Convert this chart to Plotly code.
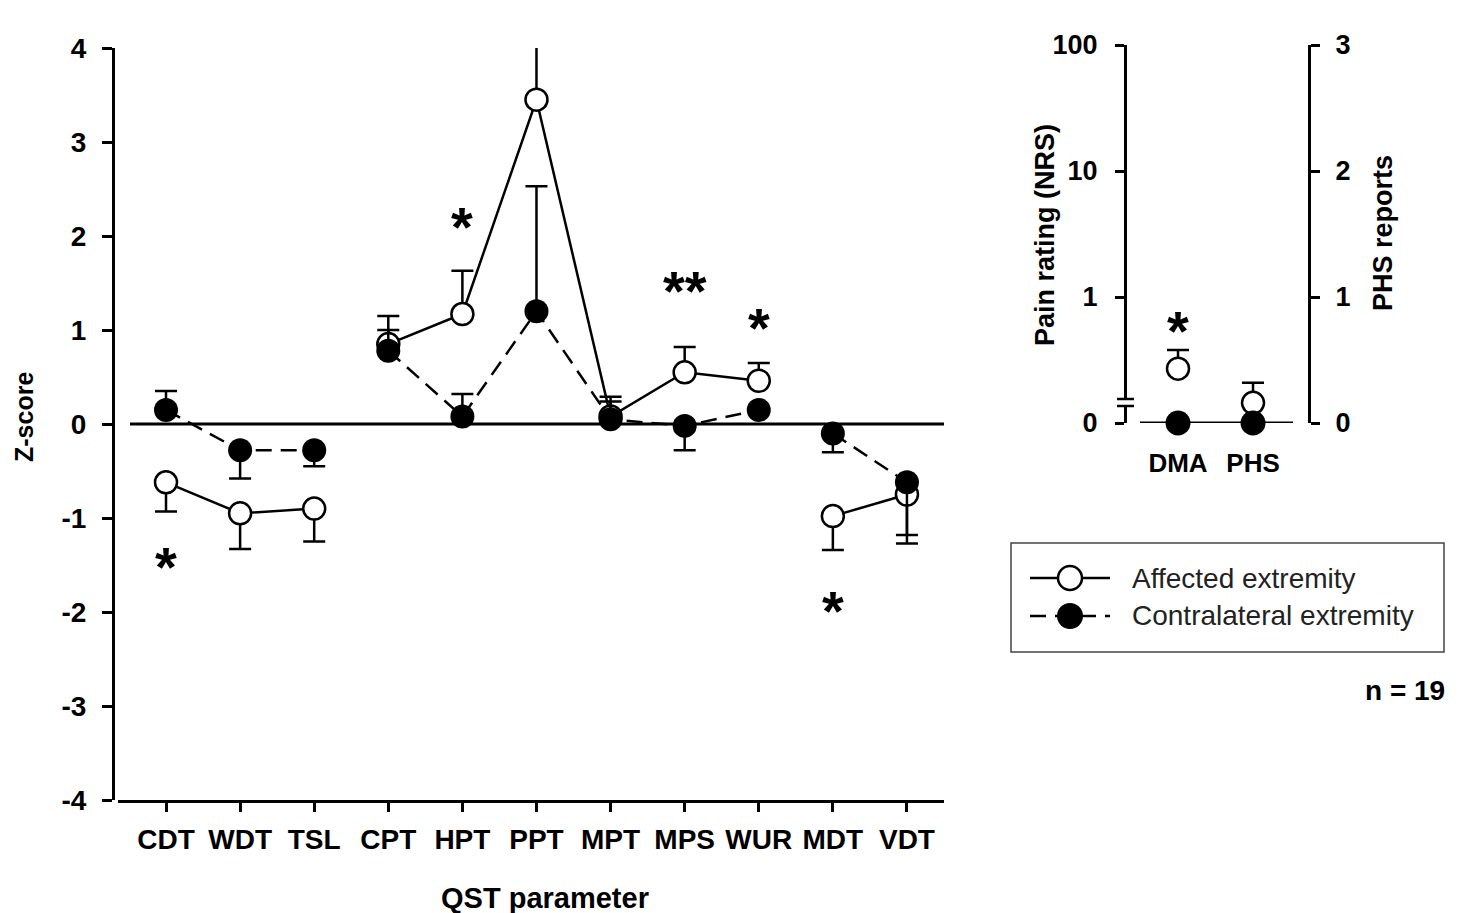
import math
import plotly.graph_objects as go

W, H = 1465, 913
OFF = 8  # page body margin offset of the rendered figure
FONT = "Liberation Sans, Arial, sans-serif"

# ---------------- data: main panel ----------------
categories = ["CDT", "WDT", "TSL", "CPT", "HPT", "PPT", "MPT", "MPS", "WUR", "MDT", "VDT"]
segments = [["CDT", "WDT", "TSL"], ["CPT", "HPT", "PPT", "MPT", "MPS", "WUR"], ["MDT", "VDT"]]

affected = [-0.62, -0.95, -0.90, 0.85, 1.17, 3.45, 0.08, 0.55, 0.46, -0.98, -0.75]
affected_err_up = [0, 0, 0, 0.30, 0.46, 0.80, 0.21, 0.27, 0.19, 0, 0]
affected_err_down = [0.31, 0.38, 0.35, 0, 0, 0, 0, 0, 0, 0.36, 0.43]

contra = [0.15, -0.28, -0.28, 0.78, 0.08, 1.20, 0.05, -0.02, 0.15, -0.10, -0.62]
contra_err_up = [0.20, 0, 0, 0.22, 0.24, 1.33, 0.19, 0, 0, 0, 0]
contra_err_down = [0, 0.30, 0.17, 0, 0, 0, 0, 0.26, 0, 0.20, 0.65]

sig_cats = ["CDT", "HPT", "PPT", "MPS", "WUR", "MDT"]
sig_labels = ["*", "*", "**", "**", "*", "*"]
sig_y = [-1.44, 2.18, 4.28, 1.50, 1.10, -1.91]

z_ticks = [-4, -3, -2, -1, 0, 1, 2, 3, 4]

# ---------------- data: inset ----------------
inset_cats = ["DMA", "PHS"]
dma_affected, dma_affected_err, dma_contra = 0.27, 0.11, 0.0
phs_affected, phs_affected_err, phs_contra = 0.16, 0.16, 0.0
dma_sig_label, dma_sig_value = "*", 0.62
nrs_tickvals = [0.1, 1, 10, 100]
nrs_ticktext = ["0", "1", "10", "100"]
phs_ticks = [0, 1, 2, 3]
NRS_FLOOR = 0.1  # value drawn at the axis break for a zero rating


def px(x):
    return (x - OFF) / W


def py(y):
    return 1 - (y - OFF) / H


def nrs(v):
    return v if v > 0 else NRS_FLOOR


idx = {c: i for i, c in enumerate(categories)}

fig = go.Figure()

# main panel traces
for series, up, down, is_aff in [
    (affected, affected_err_up, affected_err_down, True),
    (contra, contra_err_up, contra_err_down, False),
]:
    for seg in segments:
        ii = [idx[c] for c in seg]
        fig.add_trace(go.Scatter(
            x=ii, y=[series[i] for i in ii],
            mode="lines+markers",
            line=dict(color="black", width=2.5, dash="solid" if is_aff else "16px,9px"),
            marker=dict(symbol="circle", size=22 if is_aff else 24,
                        color="white" if is_aff else "black",
                        line=dict(color="black", width=2.5 if is_aff else 0)),
            error_y=dict(type="data", symmetric=False,
                         array=[up[i] for i in ii], arrayminus=[down[i] for i in ii],
                         color="black", thickness=2.5, width=11),
            xaxis="x", yaxis="y", showlegend=False, cliponaxis=True,
            hoverinfo="skip",
        ))

# inset traces: DMA on log NRS axis (y2), PHS on linear axis (y3)
fig.add_trace(go.Scatter(
    x=[0], y=[nrs(dma_affected)], mode="markers",
    marker=dict(symbol="circle", size=22, color="white", line=dict(color="black", width=2.5)),
    error_y=dict(type="data", symmetric=False, array=[dma_affected_err], arrayminus=[0],
                 color="black", thickness=2.5, width=11),
    xaxis="x2", yaxis="y2", showlegend=False, hoverinfo="skip", cliponaxis=False))
fig.add_trace(go.Scatter(
    x=[1], y=[phs_affected], mode="markers",
    marker=dict(symbol="circle", size=22, color="white", line=dict(color="black", width=2.5)),
    error_y=dict(type="data", symmetric=False, array=[phs_affected_err], arrayminus=[0],
                 color="black", thickness=2.5, width=11),
    xaxis="x2", yaxis="y3", showlegend=False, hoverinfo="skip", cliponaxis=False))
fig.add_trace(go.Scatter(
    x=[0], y=[nrs(dma_contra)], mode="markers",
    marker=dict(symbol="circle", size=25, color="black"),
    xaxis="x2", yaxis="y2", showlegend=False, hoverinfo="skip", cliponaxis=False))
fig.add_trace(go.Scatter(
    x=[1], y=[phs_contra], mode="markers",
    marker=dict(symbol="circle", size=25, color="black"),
    xaxis="x2", yaxis="y3", showlegend=False, hoverinfo="skip", cliponaxis=False))

tickfont = dict(family=FONT, size=28, color="black", weight="bold")
inset_font = dict(family=FONT, size=27, color="black", weight="bold")

fig.update_layout(
    width=W, height=H,
    margin=dict(l=0, r=0, t=0, b=0, pad=0, autoexpand=False),
    paper_bgcolor="white", plot_bgcolor="rgba(0,0,0,0)",
    font=dict(family=FONT, color="black"),
    xaxis=dict(domain=[px(118), px(944)], range=[-0.648, 10.5],
               tickvals=list(range(len(categories))), ticktext=categories,
               showline=True, linecolor="black", linewidth=3,
               ticks="outside", ticklen=9, tickwidth=3, tickcolor="black",
               tickfont=tickfont, ticklabelstandoff=3, automargin=False,
               showgrid=False, zeroline=False, anchor="y"),
    yaxis=dict(domain=[py(800), py(48)], range=[-4, 4],
               tickvals=z_ticks, ticktext=[str(t) for t in z_ticks],
               anchor="free", position=px(113), automargin=False,
               showline=True, linecolor="black", linewidth=3,
               ticks="outside", ticklen=10, tickwidth=3, tickcolor="black",
               tickfont=tickfont, ticklabelstandoff=10,
               showgrid=False, zeroline=False),
    xaxis2=dict(domain=[px(1127), px(1308)], range=[-0.68, 1.733],
                tickvals=[0, 1], ticktext=inset_cats, ticks="",
                showline=False, showgrid=False, zeroline=False, automargin=False,
                tickfont=dict(family=FONT, size=26, color="black", weight="bold"),
                ticklabelstandoff=22, anchor="y2"),
    yaxis2=dict(domain=[py(423), py(45)], type="log", range=[-1, 2],
                tickvals=nrs_tickvals, ticktext=nrs_ticktext, automargin=False,
                showline=True, linecolor="black", linewidth=3,
                ticks="outside", ticklen=9, tickwidth=3, tickcolor="black",
                tickfont=inset_font, ticklabelstandoff=12,
                showgrid=False, zeroline=False, anchor="x2"),
    yaxis3=dict(domain=[py(423), py(45)], range=[0, 3], overlaying="y2", side="right",
                tickvals=phs_ticks, ticktext=[str(t) for t in phs_ticks], automargin=False,
                showline=True, linecolor="black", linewidth=3,
                ticks="outside", ticklen=9, tickwidth=3, tickcolor="black",
                tickfont=inset_font, ticklabelstandoff=10,
                showgrid=False, zeroline=False, anchor="x2"),
)

shapes = []
# zero reference line, main panel
shapes.append(dict(type="line", xref="paper", yref="y", x0=px(130), x1=px(944), y0=0, y1=0,
                   line=dict(color="black", width=3), layer="below"))
# zero reference line, inset
shapes.append(dict(type="line", xref="paper", yref="y3", x0=px(1140), x1=px(1293), y0=0, y1=0,
                   line=dict(color="black", width=3), layer="below"))
# axis break on the NRS axis
shapes.append(dict(type="rect", xref="paper", yref="paper", x0=px(1122), x1=px(1132),
                   y0=py(406), y1=py(399), fillcolor="white", line=dict(width=0)))
for yy in (399, 406):
    shapes.append(dict(type="line", xref="paper", yref="paper", x0=px(1117), x1=px(1134),
                       y0=py(yy), y1=py(yy), line=dict(color="black", width=2.5)))

# legend box (drawn)
shapes.append(dict(type="rect", xref="paper", yref="paper", x0=px(1011), x1=px(1444),
                   y0=py(652), y1=py(543), line=dict(color="#444", width=1.5),
                   fillcolor="rgba(0,0,0,0)"))
shapes.append(dict(type="line", xref="paper", yref="paper", x0=px(1030), x1=px(1110),
                   y0=py(578), y1=py(578), line=dict(color="black", width=2.5)))
shapes.append(dict(type="circle", xref="paper", yref="paper", x0=px(1058), x1=px(1082),
                   y0=py(590), y1=py(566), fillcolor="white", line=dict(color="black", width=2.5)))
shapes.append(dict(type="line", xref="paper", yref="paper", x0=px(1030), x1=px(1110),
                   y0=py(616), y1=py(616), line=dict(color="black", width=2.5, dash="16px,9px")))
shapes.append(dict(type="circle", xref="paper", yref="paper", x0=px(1057), x1=px(1083),
                   y0=py(629), y1=py(603), fillcolor="black", line=dict(color="black", width=0)))
fig.update_layout(shapes=shapes)

ann = []
star_font = dict(family=FONT, size=56, color="black", weight="bold")
for c, lab, yv in zip(sig_cats, sig_labels, sig_y):
    ann.append(dict(x=idx[c], y=yv, xref="x", yref="y", text=lab, showarrow=False,
                    font=star_font, yshift=-7, xanchor="center", yanchor="middle"))
ann.append(dict(x=0, y=math.log10(dma_sig_value), xref="x2", yref="y2", text=dma_sig_label,
                showarrow=False, font=star_font, yshift=-7,
                xanchor="center", yanchor="middle"))
ann.append(dict(x=px(8), y=py(417), xref="paper", yref="paper", text="Z-score", textangle=-90,
                showarrow=False, font=dict(family=FONT, size=25, color="black", weight="bold"),
                xanchor="left", yanchor="middle"))
ann.append(dict(x=px(545), y=py(898), xref="paper", yref="paper", text="QST parameter",
                showarrow=False, font=dict(family=FONT, size=29, color="black", weight="bold"),
                xanchor="center", yanchor="middle"))
ann.append(dict(x=px(1045), y=py(235), xref="paper", yref="paper", text="Pain rating (NRS)",
                textangle=-90, showarrow=False,
                font=dict(family=FONT, size=27, color="black", weight="bold"),
                xanchor="center", yanchor="middle"))
ann.append(dict(x=px(1383), y=py(233), xref="paper", yref="paper", text="PHS reports",
                textangle=-90, showarrow=False,
                font=dict(family=FONT, size=27, color="black", weight="bold"),
                xanchor="center", yanchor="middle"))
ann.append(dict(x=px(1130), y=py(578), xref="paper", yref="paper", text="Affected extremity",
                showarrow=False, font=dict(family=FONT, size=28, color="#222"),
                xanchor="left", yanchor="middle"))
ann.append(dict(x=px(1130), y=py(615), xref="paper", yref="paper", text="Contralateral extremity",
                showarrow=False, font=dict(family=FONT, size=28, color="#222"),
                xanchor="left", yanchor="middle"))
ann.append(dict(x=px(1447), y=py(690), xref="paper", yref="paper", text="n = 19",
                showarrow=False, font=dict(family=FONT, size=28, color="black", weight="bold"),
                xanchor="right", yanchor="middle"))
fig.update_layout(annotations=ann)

fig.write_html("out.html")
